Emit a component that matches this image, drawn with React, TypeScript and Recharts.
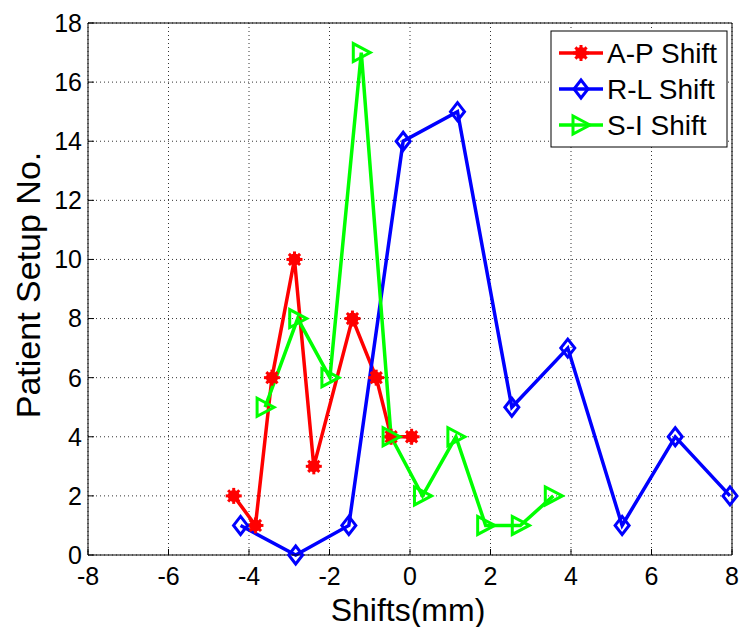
import { CartesianGrid, Line, LineChart, XAxis, YAxis } from "recharts";

// A-P shift
const apX = [-4.38, -3.84, -3.43, -2.87, -2.39, -1.43, -0.84, -0.47, 0.04];
const apY = [2, 1, 6, 10, 3, 8, 6, 4, 4];

// R-L shift
const rlX = [-4.21, -2.84, -1.52, -0.17, 1.18, 2.53, 3.92, 5.27, 6.59, 7.95];
const rlY = [1, 0, 1, 14, 15, 5, 7, 1, 4, 2];

// S-I shift
const siX = [-3.6, -2.79, -1.99, -1.21, -0.47, 0.31, 1.14, 1.88, 2.74, 3.56];
const siY = [5, 8, 6, 17, 4, 2, 4, 1, 1, 2];

const xTicks = [-8, -6, -4, -2, 0, 2, 4, 6, 8];
const yTicks = [0, 2, 4, 6, 8, 10, 12, 14, 16, 18];

const toRows = (xs: number[], ys: number[]) => xs.map((x, i) => ({ x, y: ys[i] }));

const RED = "#ff0000";
const BLUE = "#0000ff";
const GREEN = "#00ff00";
const FONT = "'Liberation Sans', Arial, sans-serif";

function Star({ cx, cy }: { cx: number; cy: number }) {
  const r = 8;
  const d = r * 0.7;
  return (
    <g stroke={RED} strokeWidth={3} fill={RED}>
      <circle cx={cx} cy={cy} r={4.5} />
      <line x1={cx - r} y1={cy} x2={cx + r} y2={cy} />
      <line x1={cx} y1={cy - r} x2={cx} y2={cy + r} />
      <line x1={cx - d} y1={cy - d} x2={cx + d} y2={cy + d} />
      <line x1={cx - d} y1={cy + d} x2={cx + d} y2={cy - d} />
    </g>
  );
}

function Diamond({ cx, cy }: { cx: number; cy: number }) {
  return (
    <polygon
      points={`${cx},${cy - 9} ${cx + 7},${cy} ${cx},${cy + 9} ${cx - 7},${cy}`}
      fill="none"
      stroke={BLUE}
      strokeWidth={3}
    />
  );
}

function Tri({ cx, cy }: { cx: number; cy: number }) {
  return (
    <polygon
      points={`${cx + 9},${cy} ${cx - 8},${cy - 9} ${cx - 8},${cy + 9}`}
      fill="none"
      stroke={GREEN}
      strokeWidth={3}
    />
  );
}

const tickStyle = { fill: "#000", fontSize: 25, fontFamily: FONT };

export default function App() {
  const legend = [
    { name: "A-P Shift", color: RED, Mark: Star, y: 53 },
    { name: "R-L Shift", color: BLUE, Mark: Diamond, y: 89 },
    { name: "S-I Shift", color: GREEN, Mark: Tri, y: 125 },
  ];

  return (
    <div style={{ position: "absolute", left: 0, top: 0, width: 740, height: 627, background: "#fff" }}>
      <LineChart width={740} height={627} margin={{ top: 0, right: 0, bottom: 0, left: 0 }}>
        <CartesianGrid stroke="#333" strokeDasharray="1 3" />
        <XAxis
          xAxisId={0}
          dataKey="x"
          type="number"
          domain={[-8, 8]}
          ticks={xTicks}
          height={72}
          tickSize={-6}
          tickMargin={18}
          stroke="#000"
          tick={tickStyle}
        />
        <XAxis
          xAxisId="top"
          orientation="top"
          dataKey="x"
          type="number"
          domain={[-8, 8]}
          ticks={xTicks}
          height={23}
          tickSize={-6}
          tick={false}
          stroke="#000"
        />
        <YAxis
          yAxisId={0}
          type="number"
          domain={[0, 18]}
          ticks={yTicks}
          width={88}
          tickSize={-6}
          tickMargin={12}
          stroke="#000"
          tick={tickStyle}
        />
        <YAxis
          yAxisId="right"
          orientation="right"
          type="number"
          domain={[0, 18]}
          ticks={yTicks}
          width={8}
          tickSize={-6}
          tick={false}
          stroke="#000"
        />
        <Line
          data={toRows(apX, apY)}
          dataKey="y"
          type="linear"
          stroke={RED}
          strokeWidth={3.5}
          isAnimationActive={false}
          dot={(p: any) => <Star key={`a${p.index}`} cx={p.cx} cy={p.cy} />}
        />
        <Line
          data={toRows(rlX, rlY)}
          dataKey="y"
          type="linear"
          stroke={BLUE}
          strokeWidth={3.5}
          isAnimationActive={false}
          dot={(p: any) => <Diamond key={`r${p.index}`} cx={p.cx} cy={p.cy} />}
        />
        <Line
          data={toRows(siX, siY)}
          dataKey="y"
          type="linear"
          stroke={GREEN}
          strokeWidth={3.5}
          isAnimationActive={false}
          dot={(p: any) => <Tri key={`s${p.index}`} cx={p.cx} cy={p.cy} />}
        />
      </LineChart>

      <svg
        width={740}
        height={627}
        style={{ position: "absolute", left: 0, top: 0, pointerEvents: "none" }}
      >
        <text x={408} y={621} textAnchor="middle" fontSize={32} fontFamily={FONT} fill="#000">
          Shifts(mm)
        </text>
        <text
          x={0}
          y={0}
          transform="translate(40,285) rotate(-90)"
          textAnchor="middle"
          fontSize={34}
          fontFamily={FONT}
          fill="#000"
        >
          Patient Setup No.
        </text>
        <rect x={551} y={31} width={176} height={116} fill="#fff" stroke="#000" strokeWidth={1} />
        {legend.map(({ name, color, Mark, y }) => (
          <g key={name}>
            <line x1={559} y1={y} x2={603} y2={y} stroke={color} strokeWidth={3.5} />
            <Mark cx={581} cy={y} />
            <text x={607} y={y + 10} fontSize={28} fontFamily={FONT} fill="#000">
              {name}
            </text>
          </g>
        ))}
      </svg>
    </div>
  );
}
